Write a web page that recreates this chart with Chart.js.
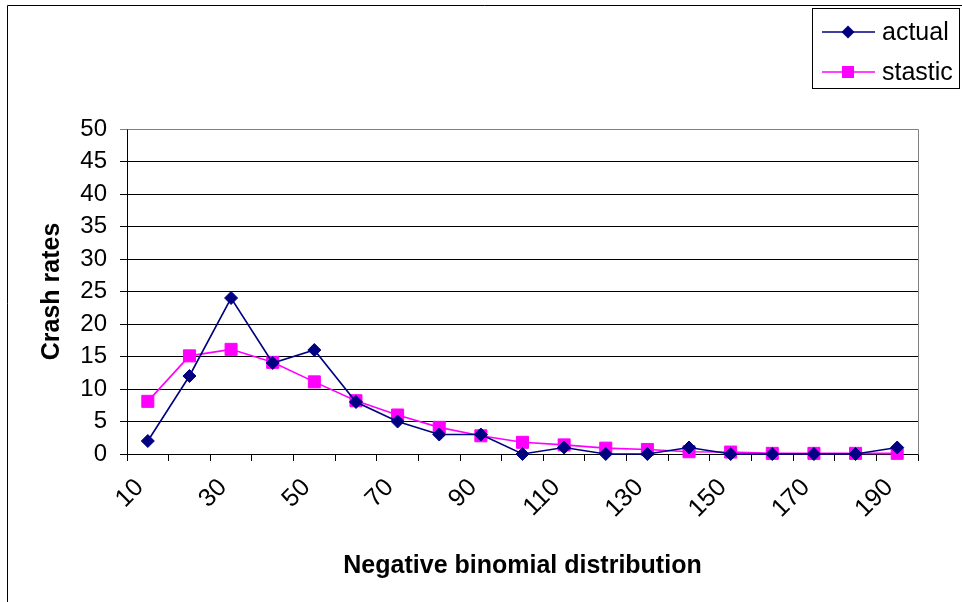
<!DOCTYPE html>
<html>
<head>
<meta charset="utf-8">
<script src="https://cdn.jsdelivr.net/npm/chart.js@4.4.1/dist/chart.umd.min.js"></script>
<style>
  html, body { margin: 0; padding: 0; background: #fff; }
  #wrap { position: relative; width: 962px; height: 602px; }
  canvas { display: block; }
</style>
</head>
<body>
<div id="wrap"><canvas id="c" width="962" height="602"></canvas></div>
<script>
// Category labels (x axis)
const categories = ['10','20','30','40','50','60','70','80','90','100','110','120','130','140','150','160','170','180','190'];
// Observed crash counts per category
const actual = [2, 12, 24, 14, 16, 8, 5, 3, 3, 0, 1, 0, 0, 1, 0, 0, 0, 0, 1];
// Fitted negative binomial values
const stastic = [8.1, 15.1, 16.1, 14.1, 11.1, 8.2, 6.0, 4.1, 2.8, 1.8, 1.4, 0.9, 0.7, 0.35, 0.3, 0.1, 0.1, 0.1, 0.1];
// Series names
const seriesNames = ['actual', 'stastic'];

const FONT = "'Liberation Sans', Arial, sans-serif";
const NAVY = '#000080';
const MAGENTA = '#FF00FF';

// Outer frame, plot-area border and legend box
const decorations = {
  id: 'decorations',
  beforeDraw(chart) {
    const ctx = chart.ctx;
    ctx.save();
    ctx.fillStyle = '#fff';
    ctx.fillRect(0, 0, chart.width, chart.height);
    ctx.strokeStyle = '#000';
    ctx.lineWidth = 1;
    ctx.beginPath();
    ctx.moveTo(7.5, chart.height);
    ctx.lineTo(7.5, 5.5);
    ctx.lineTo(chart.width, 5.5);
    ctx.stroke();
    ctx.restore();
  },
  beforeDatasetsDraw(chart) {
    const ctx = chart.ctx;
    const a = chart.chartArea;
    ctx.save();
    ctx.strokeStyle = '#808080';
    ctx.lineWidth = 1;
    ctx.beginPath();
    ctx.moveTo(Math.round(a.left) + 0.5, Math.round(a.top) + 0.5);
    ctx.lineTo(Math.round(a.right) + 0.5, Math.round(a.top) + 0.5);
    ctx.lineTo(Math.round(a.right) + 0.5, Math.round(a.bottom) + 0.5);
    ctx.stroke();
    ctx.restore();
  },
  afterDraw(chart) {
    const ctx = chart.ctx;
    ctx.save();
    ctx.strokeStyle = '#000';
    ctx.lineWidth = 1;
    ctx.strokeRect(812.5, 8.5, 147, 80);
    const rows = [
      { y: 32, color: NAVY, shape: 'diamond', name: seriesNames[0] },
      { y: 72, color: MAGENTA, shape: 'square', name: seriesNames[1] }
    ];
    rows.forEach(r => {
      ctx.strokeStyle = r.color;
      ctx.fillStyle = r.color;
      ctx.lineWidth = 1.5;
      ctx.beginPath();
      ctx.moveTo(822, r.y);
      ctx.lineTo(875, r.y);
      ctx.stroke();
      ctx.beginPath();
      if (r.shape === 'diamond') {
        ctx.moveTo(848 - 6.5, r.y);
        ctx.lineTo(848, r.y - 6.5);
        ctx.lineTo(848 + 6.5, r.y);
        ctx.lineTo(848, r.y + 6.5);
        ctx.closePath();
        ctx.fill();
      } else {
        ctx.fillRect(848 - 6, r.y - 6, 12, 12);
      }
      ctx.fillStyle = '#000';
      ctx.font = '25px ' + FONT;
      ctx.textBaseline = 'middle';
      ctx.textAlign = 'left';
      ctx.fillText(r.name, 882, r.y + 1);
    });
    ctx.restore();
  }
};

new Chart(document.getElementById('c'), {
  type: 'line',
  data: {
    labels: categories,
    datasets: [
      {
        label: seriesNames[0],
        data: actual,
        borderColor: NAVY,
        backgroundColor: NAVY,
        borderWidth: 1.6,
        pointStyle: 'rectRot',
        pointRadius: 6.5,
        pointBorderWidth: 1,
        tension: 0,
        clip: false
      },
      {
        label: seriesNames[1],
        data: stastic,
        borderColor: MAGENTA,
        backgroundColor: MAGENTA,
        borderWidth: 1.6,
        pointStyle: 'rect',
        pointRadius: 8.5,
        pointBorderWidth: 1,
        tension: 0,
        clip: false
      }
    ]
  },
  options: {
    responsive: false,
    animation: false,
    layout: { padding: { left: 0, top: 129, right: 44, bottom: 0 } },
    plugins: {
      legend: { display: false },
      tooltip: { enabled: false }
    },
    scales: {
      x: {
        offset: true,
        grid: { offset: true, drawOnChartArea: false, tickLength: 7, color: '#000' },
        border: { color: '#000', width: 1 },
        ticks: {
          autoSkip: false,
          maxRotation: 45,
          minRotation: 45,
          padding: 12,
          labelOffset: -8,
          color: '#000',
          font: { family: FONT, size: 25 },
          callback: (v, i) => (i % 2 === 0 ? categories[i] : '')
        },
        title: {
          display: true,
          text: 'Negative binomial distribution',
          color: '#000',
          font: { family: FONT, size: 25, weight: 'bold' },
          padding: { top: 0, bottom: 21 }
        },
        afterFit(s) { s.height = 148; s.paddingLeft = 0; s.paddingRight = 0; }
      },
      y: {
        min: 0,
        max: 50,
        ticks: {
          stepSize: 5,
          padding: 13,
          color: '#000',
          font: { family: FONT, size: 24 }
        },
        grid: {
          tickLength: 7,
          color: c => (c.tick && c.tick.value === 50 ? '#808080' : '#000')
        },
        border: { color: '#000', width: 1 },
        title: {
          display: true,
          text: 'Crash rates',
          color: '#000',
          font: { family: FONT, size: 25, weight: 'bold' },
          padding: { top: 37, bottom: 0 }
        },
        afterFit(s) { s.width = 127; }
      }
    }
  },
  plugins: [decorations]
});
</script>
</body>
</html>
